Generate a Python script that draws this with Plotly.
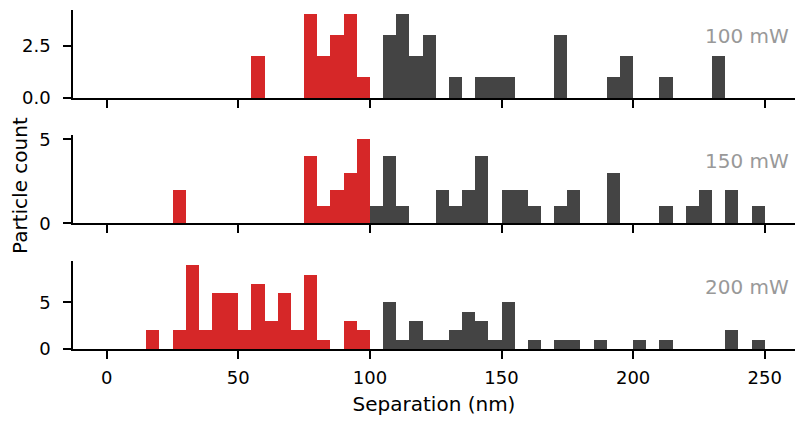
import plotly.graph_objects as go
from plotly.subplots import make_subplots

# 5 nm separation bins (left edges, nm)
bin_left = list(range(0, 250, 5))
bin_width = 5
split_nm = 100  # bins below this are drawn in red

counts_100mw = [0, 0, 0, 0, 0, 0, 0, 0, 0, 0,
                0, 2, 0, 0, 0, 4, 2, 3, 4, 1,
                0, 3, 4, 2, 3, 0, 1, 0, 1, 1,
                1, 0, 0, 0, 3, 0, 0, 0, 1, 2,
                0, 0, 1, 0, 0, 0, 2, 0, 0, 0]
counts_150mw = [0, 0, 0, 0, 0, 2, 0, 0, 0, 0,
                0, 0, 0, 0, 0, 4, 1, 2, 3, 5,
                1, 4, 1, 0, 0, 2, 1, 2, 4, 0,
                2, 2, 1, 0, 1, 2, 0, 0, 3, 0,
                0, 0, 1, 0, 1, 2, 0, 2, 0, 1]
counts_200mw = [0, 0, 0, 2, 0, 2, 9, 2, 6, 6,
                2, 7, 3, 6, 2, 8, 1, 0, 3, 2,
                0, 5, 1, 3, 1, 1, 2, 4, 3, 1,
                5, 0, 1, 0, 1, 1, 0, 1, 0, 0,
                1, 0, 1, 0, 0, 0, 0, 2, 0, 1]

panel_labels = ["100 mW", "150 mW", "200 mW"]
panel_counts = [counts_100mw, counts_150mw, counts_200mw]
y_max = [4.2, 5.25, 9.45]
y_ticks = [[0, 2.5], [0, 5], [0, 5]]
y_ticktext = [["0.0", "2.5"], ["0", "5"], ["0", "5"]]

x_ticks = [0, 50, 100, 150, 200, 250]
x_range = [-12.8, 261.5]

RED = "#d62728"
GREY = "#444444"
FONT = "DejaVu Sans"

fig = make_subplots(rows=3, cols=1, shared_xaxes=False, vertical_spacing=0.0)

domains = [[0.7404, 1.0], [0.3708, 0.6313], [0.0, 0.2596]]

for i, counts in enumerate(panel_counts):
    centers = [b + bin_width / 2 for b in bin_left]
    colors = [RED if b < split_nm else GREY for b in bin_left]
    fig.add_trace(
        go.Bar(x=centers, y=counts, width=bin_width,
               marker=dict(color=colors, line=dict(width=0)),
               showlegend=False, hoverinfo="x+y"),
        row=i + 1, col=1)
    ax = "" if i == 0 else str(i + 1)
    fig.layout["xaxis" + ax].update(
        domain=[0, 1], range=x_range, tickvals=x_ticks,
        showticklabels=(i == 2), ticks="outside", ticklen=8, tickwidth=1.6,
        tickcolor="black", showline=True, linecolor="black", linewidth=1.6,
        showgrid=False, zeroline=False, ticklabelstandoff=4,
        tickfont=dict(family=FONT, size=18, color="black"))
    fig.layout["yaxis" + ax].update(
        domain=domains[i], range=[0, y_max[i]], tickvals=y_ticks[i],
        ticktext=y_ticktext[i], ticks="outside", ticklen=8, tickwidth=1.6,
        tickcolor="black", showline=True, linecolor="black", linewidth=1.6,
        showgrid=False, zeroline=False, ticklabelstandoff=9,
        tickfont=dict(family=FONT, size=18, color="black"))
    fig.add_annotation(
        text=panel_labels[i], xref="paper", yref="y" + ax + " domain",
        x=0.994, y=0.70, xanchor="right", yanchor="middle", showarrow=False,
        font=dict(family=FONT, size=20, color="#999999"))

fig.layout.xaxis3.title = dict(text="Separation (nm)", standoff=10,
                               font=dict(family=FONT, size=20, color="black"))

fig.add_annotation(
    text="Particle count", xref="paper", yref="paper",
    x=-0.0734, y=0.481, xanchor="center", yanchor="middle", textangle=-90,
    showarrow=False, font=dict(family=FONT, size=20, color="black"))

fig.update_layout(
    width=795, height=424,
    margin=dict(l=73, r=0, t=10, b=75, autoexpand=False),
    paper_bgcolor="white", plot_bgcolor="white",
    bargap=0, barmode="overlay",
)

fig.write_html("out.html")
